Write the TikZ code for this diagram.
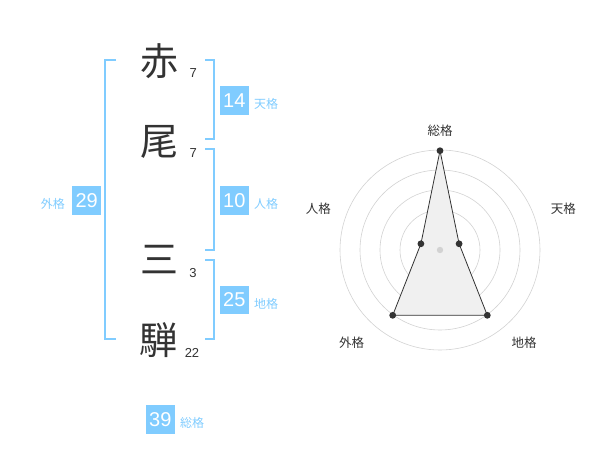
\documentclass[tikz,border=0pt]{standalone}
\usepackage{fontspec}
\usetikzlibrary{calc}
\setmainfont{Liberation Sans}
\newfontfamily\jp{Noto Sans CJK JP}
\definecolor{sky}{RGB}{128,204,255}
\definecolor{ink}{RGB}{51,51,51}
\definecolor{ring}{RGB}{210,210,210}
\definecolor{area}{RGB}{240,240,240}
\begin{document}
\begin{tikzpicture}[x=1pt,y=-1pt,
  kanji/.style={inner sep=0pt,text=ink,font=\jp\fontsize{38}{38}\selectfont},
  stroke/.style={inner sep=0pt,anchor=base,text=ink,font=\fontsize{13}{13}\selectfont},
  numbox/.style={fill=sky,text=white,inner sep=0pt,minimum width=28.7pt,minimum height=28.7pt,font=\fontsize{20}{20}\selectfont},
  kaku/.style={inner sep=0pt,text=sky,font=\jp\fontsize{12}{12}\selectfont},
  bracket/.style={draw=sky,line width=2pt},
  axislabel/.style={inner sep=0pt,text=ink,font=\jp\fontsize{12.5}{12.5}\selectfont},
  ringline/.style={draw=ring,line width=0.6pt},
  dot/.style={fill=ink}
]
\useasboundingbox (0,0) rectangle (600,470);
% name characters
\node[kanji] (k1) at (159,61) {赤};
\node[kanji] (k2) at (159,141.7) {尾};
\node[kanji] (k3) at (159,260) {三};
\node[kanji] (k4) at (158.5,340) {騨};
\node[stroke] (s1) at (193.3,77.7) {7};
\node[stroke] (s2) at (193.3,157.7) {7};
\node[stroke] (s3) at (193,277.3) {3};
\node[stroke] (s4) at (192,357.7) {22};
% brackets
\draw[bracket] (116,60) -- (105,60) -- (105,339.3) -- (116,339.3);
\draw[bracket] (205,60) -- (214.3,60) -- (214.3,139.3) -- (205,139.3);
\draw[bracket] (205,149.3) -- (214.3,149.3) -- (214.3,250) -- (205,250);
\draw[bracket] (205,260) -- (214.3,260) -- (214.3,339.3) -- (205,339.3);
% boxes
\node[numbox] (b14) at (234.3,100.3) {14};
\node[kaku] (l14) at (266,104.2) {天格};
\node[numbox] (b10) at (234.3,200.3) {10};
\node[kaku] (l10) at (266,204.2) {人格};
\node[numbox] (b29) at (86.7,200.3) {29};
\node[kaku] (l29) at (52.8,203.8) {外格};
\node[numbox] (b25) at (234.3,300) {25};
\node[kaku] (l25) at (266,304) {地格};
\node[numbox] (b39) at (160.3,419.3) {39};
\node[kaku] (l39) at (192,422.8) {総格};
% radar
\coordinate (c) at (440,250);
\foreach \r in {20,40,60,80,100} \draw[ringline] (c) circle (\r);
\coordinate (p1) at ($(c)+(0,-99.3)$);
\coordinate (p2) at ($(c)+(19.1,-6.2)$);
\coordinate (p3) at ($(c)+(47.3,65.3)$);
\coordinate (p4) at ($(c)+(-47.3,65.3)$);
\coordinate (p5) at ($(c)+(-19.1,-6.2)$);
\draw[fill=area,draw=ink,line width=0.8pt] (p1) -- (p2) -- (p3) -- (p4) -- (p5) -- cycle;
\fill[ring] (c) circle (3.2);
\foreach \p in {p1,p2,p3,p4,p5} \fill[dot] (\p) circle (3.4);
\node[axislabel] (a1) at (440,130.7) {総格};
\node[axislabel] (a2) at (563.3,209) {天格};
\node[axislabel] (a3) at (524,342.3) {地格};
\node[axislabel] (a4) at (351.7,342.3) {外格};
\node[axislabel] (a5) at (318.3,209) {人格};
\end{tikzpicture}
\end{document}
